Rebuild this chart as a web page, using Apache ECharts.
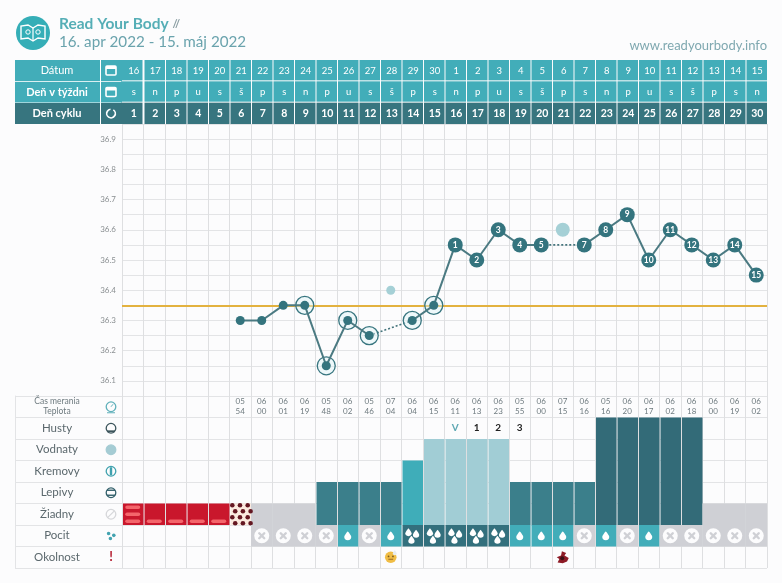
<!DOCTYPE html>
<html>
<head>
<meta charset="utf-8">
<title>Read Your Body</title>
<style>
	html, body { margin: 0; padding: 0; background: #fcfcfd; }
	#chart { width: 782px; height: 583px; }
</style>
<script src="https://cdn.jsdelivr.net/npm/echarts@6/dist/echarts.min.js"></script>
</head>
<body>
<div id="chart"></div>
<script type="text/javascript">
	// chart data, one entry per cycle day
	var dates = [16,17,18,19,20,21,22,23,24,25,26,27,28,29,30,1,2,3,4,5,6,7,8,9,10,11,12,13,14,15];
	var weekdays = ['s','n','p','u','s','š','p','s','n','p','u','s','š','p','s','n','p','u','s','š','p','s','n','p','u','s','š','p','s','n'];
	var cycleDays = [1,2,3,4,5,6,7,8,9,10,11,12,13,14,15,16,17,18,19,20,21,22,23,24,25,26,27,28,29,30];
	var headerRows = ['Dátum', 'Deň v týždni', 'Deň cyklu'];
	var rowLabels = ['Okolnost', 'Pocit', 'Žiadny', 'Lepivy', 'Kremovy', 'Vodnaty', 'Husty', 'Čas merania\nTeplota'];
	var tempTicks = ['36.1','36.2','36.3','36.4','36.5','36.6','36.7','36.8','36.9'];

	var temps = [null,null,null,null,null,36.3,36.3,36.35,36.35,36.15,36.3,36.25,null,36.3,36.35,36.55,36.5,36.6,36.55,36.55,null,36.55,36.6,36.65,36.5,36.6,36.55,36.5,36.55,36.45];
	var excluded = [null,null,null,null,null,null,null,null,null,null,null,null,36.4,null,null,null,null,null,null,null,36.6,null,null,null,null,null,null,null,null,null];
	var ringed = [null,null,null,null,null,null,null,null,36.35,36.15,36.3,36.25,null,36.3,36.35,null,null,null,null,null,null,null,null,null,null,null,null,null,null,null];
	var highDays = [null,null,null,null,null,null,null,null,null,null,null,null,null,null,null,1,2,3,4,5,null,7,8,9,10,11,12,13,14,15];
	var coverline = 36.35;

	var times = ['','','','','','05\n54','06\n00','06\n01','06\n19','05\n48','06\n02','05\n46','07\n04','06\n04','06\n15','06\n11','06\n13','06\n23','05\n55','06\n00','07\n15','06\n16','05\n16','06\n20','06\n17','06\n02','06\n18','06\n00','06\n19','06\n02'];
	var peakMarks = ['','','','','','','','','','','','','','','','V','1','2','3','','','','','','','','','','',''];
	// 0 nothing, 1 zadny, 2 lepivy, 3 kremovy, 4 vodnaty, 5 husty
	var mucus = [0,0,0,0,0,0,1,1,1,2,2,2,2,3,4,4,4,4,2,2,2,2,5,5,5,5,5,1,1,1];
	var bleeding = [3,1,1,1,1,-1,0,0,0,0,0,0,0,0,0,0,0,0,0,0,0,0,0,0,0,0,0,0,0,0];
	// -1 blank, 0 dry, 1 one drop, 3 three drops
	var feeling = [-1,-1,-1,-1,-1,-1,0,0,0,0,1,0,1,3,3,3,3,3,1,1,1,0,1,0,1,0,0,0,0,0];
	var notes = ['','','','','','','','','','','','','face','','','','','','','','bug','','','','','','','','',''];

	var FONT = 'Lato';
	var TEAL = '#42adb9', DARK = '#37757f', LINE = '#e3e4e6', INK = '#5b686d';
	var mucusColors = [null, '#cfd0d5', '#3b7f8b', '#3fadb9', '#a1cdd5', '#336b78'];
	var DROP = 'M12 1C12 1 3 11 3 16a9 8 0 0 0 18 0C21 11 12 1 12 1Z';
	var headerLists = [dates, weekdays, cycleDays];

	function cellRect(api, i, y0, y1, gap) {
		var a = api.coord([i, y1]), b = api.coord([i, y0]), w = api.size([1, 0])[0];
		return {x: a[0] - w / 2 + (gap || 0), y: a[1], width: w - (gap || 0), height: b[1] - a[1], cx: a[0], w: w};
	}

	function renderHeader(params, api) {
		var i = api.value(0), row = api.value(1);
		var a = api.coord([i, row]), s = api.size([1, 1]);
		var x = a[0] - s[0] / 2 + (i === 0 ? -1 : 1), w = s[0] - (i === 0 ? 0 : 1);
		return {
			type: 'group',
			children: [{
				type: 'rect',
				shape: {x: x, y: a[1] - s[1] / 2, width: w, height: s[1] - (row === 2 ? 0 : 1)},
				style: {fill: row === 2 ? DARK : TEAL}
			}, {
				type: 'text',
				style: {
					text: String(headerLists[row][i]), x: a[0] + 1, y: a[1], align: 'center', verticalAlign: 'middle',
					fill: '#fff', fontFamily: FONT, fontSize: row === 2 ? 10.5 : 9.5, fontWeight: row === 2 ? 'bold' : 'normal'
				}
			}]
		};
	}

	function renderMucus(params, api) {
		var level = api.value(1);
		if (!level) return;
		var r = cellRect(api, api.value(0), 2, 2 + level, level === 1 ? 0 : 1);
		return {type: 'rect', shape: {x: r.x, y: r.y, width: r.width, height: r.height}, style: {fill: mucusColors[level]}};
	}

	function renderBleeding(params, api) {
		var amount = api.value(1);
		if (!amount) return;
		var r = cellRect(api, api.value(0), 2, 3, 1);
		var kids = [];
		if (amount > 0) {
			kids.push({type: 'rect', shape: {x: r.x, y: r.y, width: r.width, height: r.height}, style: {fill: '#c9172c'}});
			for (var k = 0; k < amount; k++) {
				kids.push({
					type: 'rect',
					shape: {x: r.cx - 7.5, y: r.y + r.height - 5.5 - k * 7, width: 15, height: 3.6, r: 1.8},
					style: {fill: '#f4656b'}
				});
			}
		} else {
			kids.push({type: 'rect', shape: {x: r.x, y: r.y, width: r.width, height: r.height}, style: {fill: '#fbeadf'}});
			for (var row = 0; row < 4; row++) {
				for (var col = 0; col < 3; col++) {
					var dx = row % 2 ? col * 7.7 + 4.7 : col * 7.7 + 1.8;
					if (dx < r.width) {
						kids.push({
							type: 'circle',
							shape: {cx: r.x + dx, cy: r.y + 1.8 + row * 6, r: 2.3},
							style: {fill: '#641722'}
						});
					}
				}
			}
		}
		return {type: 'group', children: kids};
	}

	function dropAt(cx, cy, w, h) {
		return {
			type: 'path',
			shape: {pathData: DROP, x: cx - w / 2, y: cy - h / 2, width: w, height: h},
			style: {fill: '#fff'}
		};
	}

	function renderFeeling(params, api) {
		var f = api.value(1);
		if (f < 0) return;
		var r = cellRect(api, api.value(0), 1, 2, f === 0 ? 0 : 1);
		var cy = r.y + r.height / 2;
		var kids = [{
			type: 'rect',
			shape: {x: r.x, y: r.y, width: r.width, height: r.height},
			style: {fill: f === 0 ? '#cfd0d5' : f === 1 ? TEAL : '#33707d'}
		}];
		if (f === 0) {
			kids.push({type: 'circle', shape: {cx: r.cx, cy: cy, r: 7.5}, style: {fill: '#fcfcfd'}});
			kids.push({type: 'line', shape: {x1: r.cx - 2.5, y1: cy - 2.5, x2: r.cx + 2.5, y2: cy + 2.5}, style: {stroke: '#cfd0d5', lineWidth: 2.4, lineCap: 'round'}});
			kids.push({type: 'line', shape: {x1: r.cx + 2.5, y1: cy - 2.5, x2: r.cx - 2.5, y2: cy + 2.5}, style: {stroke: '#cfd0d5', lineWidth: 2.4, lineCap: 'round'}});
		} else if (f === 1) {
			kids.push(dropAt(r.cx, cy, 7, 9));
		} else {
			kids.push(dropAt(r.cx - 3.8, cy - 3.6, 6.5, 8));
			kids.push(dropAt(r.cx + 3.8, cy - 2, 6.5, 8));
			kids.push(dropAt(r.cx - 0.8, cy + 4, 6.5, 8));
		}
		return {type: 'group', children: kids};
	}

	function renderNote(params, api) {
		var i = api.value(0), kind = notes[i];
		if (!kind) return;
		var r = cellRect(api, i, 0, 1);
		var cy = r.y + r.height / 2;
		if (kind === 'face') {
			return {type: 'group', children: [
				{type: 'circle', shape: {cx: r.cx, cy: cy, r: 5.8}, style: {fill: '#f0bd45'}},
				{type: 'circle', shape: {cx: r.cx - 2.2, cy: cy - 0.8, r: 0.9}, style: {fill: '#7a5a20'}},
				{type: 'circle', shape: {cx: r.cx + 2.2, cy: cy - 0.8, r: 0.9}, style: {fill: '#7a5a20'}},
				{type: 'line', shape: {x1: r.cx - 2.4, y1: cy + 2, x2: r.cx + 2.4, y2: cy + 2}, style: {stroke: '#9a6a25', lineWidth: 1}},
				{type: 'path', shape: {pathData: DROP, x: r.cx + 2, y: cy - 7, width: 4, height: 5}, style: {fill: '#e8edf0'}}
			]};
		}
		return {type: 'group', children: [
			{type: 'path', shape: {pathData: 'M6 0L11 2 9 5 14 8 12 12 7 14 1 13 3 9 0 7 5 5Z', x: r.cx - 6, y: cy - 6, width: 12, height: 12}, style: {fill: '#8e1b26'}},
			{type: 'circle', shape: {cx: r.cx - 0.5, cy: cy + 1, r: 2}, style: {fill: '#3c1015'}}
		]};
	}

	function renderCellText(list, size, weight, lineHeight) {
		return function (params, api) {
			var text = list[api.value(0)];
			if (!text) return;
			var p = api.coord([api.value(0), api.value(1)]);
			return {
				type: 'text',
				style: {
					text: text, x: p[0], y: p[1], align: 'center', verticalAlign: 'middle',
					fill: text === 'V' ? '#5fa8b3' : lineHeight === 12 ? '#222' : '#6e7a7f',
					fontFamily: FONT, fontSize: size, fontWeight: weight, lineHeight: lineHeight
				}
			};
		};
	}

	function indexed(list) {
		return list.map(function (v, i) { return [i, v]; });
	}

	function bridge(first, second) {
		return temps.map(function (v, i) { return i === first || i === second ? v : null; });
	}

	var headerData = [];
	headerLists.forEach(function (list, row) {
		list.forEach(function (v, i) { headerData.push([i, row]); });
	});

	var tempPoints = temps.map(function (v, i) {
		if (v === null) return null;
		var n = highDays[i];
		return n === null ? {value: v, symbolSize: 9, label: {show: false}}
			: {value: v, symbolSize: 15, label: {show: true, formatter: String(n)}};
	});

	var excludedPoints = excluded.map(function (v, i) {
		return v === null ? null : {value: v, symbolSize: i === 20 ? 14 : 9};
	});

	var dayAxis = function (grid, extra) {
		return Object.assign({
			type: 'category', gridIndex: grid, data: cycleDays, boundaryGap: true,
			axisLine: {show: false}, axisTick: {show: false}, axisLabel: {show: false},
			splitLine: {show: true, interval: 0, lineStyle: {color: '#dedfe1', width: 1}}
		}, extra || {});
	};

	// little pictograms of the left column, drawn once at fixed table positions
	var ICON_X = 111;
	function rowY(k) { return 396 + 21.5 * (7.5 - k); }
	function headerIcon(y) {
		return {type: 'group', x: ICON_X, y: y, z: 20, children: [
			{type: 'rect', shape: {x: -5, y: -4.5, width: 10, height: 9, r: 1}, style: {fill: 'none', stroke: '#fff', lineWidth: 1.6}},
			{type: 'rect', shape: {x: -5, y: -4.5, width: 10, height: 3}, style: {fill: '#fff'}}
		]};
	}
	function ringIcon(k, color, fill) {
		return {type: 'group', x: ICON_X, y: rowY(k), z: 20, children: [
			{type: 'circle', shape: {cx: 0, cy: 0, r: 4.8}, style: {fill: fill || 'none', stroke: color, lineWidth: 1.3}}
		]};
	}
	function iconRow() {
		var clock = ringIcon(7, '#5fb0ba');
		clock.children.push({type: 'line', shape: {x1: 0, y1: 0, x2: 2, y2: -2.5}, style: {stroke: '#5fb0ba', lineWidth: 1}});
		clock.children.push({type: 'line', shape: {x1: -4, y1: 6, x2: 4, y2: 6}, style: {stroke: '#5fb0ba', lineWidth: 1}});
		var thick = ringIcon(6, '#3c555c');
		thick.children.push({type: 'line', shape: {x1: -4, y1: 3, x2: 4, y2: 3}, style: {stroke: '#3c555c', lineWidth: 1.8}});
		var creamy = ringIcon(4, '#3fa1ae');
		creamy.children.push({type: 'rect', shape: {x: -1.2, y: -4, width: 2.4, height: 8}, style: {fill: '#3fa1ae'}});
		var sticky = ringIcon(3, '#33606b');
		sticky.children.push({type: 'line', shape: {x1: -4, y1: -2.5, x2: 4, y2: -2.5}, style: {stroke: '#33606b', lineWidth: 1.4}});
		sticky.children.push({type: 'line', shape: {x1: -4, y1: 2.5, x2: 4, y2: 2.5}, style: {stroke: '#33606b', lineWidth: 1.4}});
		var none = ringIcon(2, '#d6d7da');
		none.children.push({type: 'line', shape: {x1: -3.4, y1: 3.4, x2: 3.4, y2: -3.4}, style: {stroke: '#d6d7da', lineWidth: 1.2}});
		var feel = {type: 'group', x: ICON_X, y: rowY(1), z: 20, children: [
			{type: 'circle', shape: {cx: -2.4, cy: -2.2, r: 1.8}, style: {fill: '#43a3b0'}},
			{type: 'circle', shape: {cx: 2.8, cy: -0.4, r: 1.8}, style: {fill: '#43a3b0'}},
			{type: 'circle', shape: {cx: -0.6, cy: 2.8, r: 1.8}, style: {fill: '#43a3b0'}}
		]};
		return [
			clock, thick, ringIcon(5, '#a5ccd4', '#a5ccd4'), creamy, sticky, none, feel,
			{type: 'text', x: ICON_X, y: rowY(0), z: 20, style: {text: '!', fill: '#b51e30', font: 'bold 13px ' + FONT, align: 'center', verticalAlign: 'middle'}}
		];
	}

	var logo = {type: 'group', x: 33, y: 33, z: 20, children: [
		{type: 'circle', shape: {cx: 0, cy: 0, r: 17}, style: {fill: '#35aeb7'}},
		{type: 'polygon', shape: {points: [[0, -5], [-5, -8], [-12, -7], [-12, 6], [-5, 5], [0, 8], [5, 5], [12, 6], [12, -7], [5, -8]]}, style: {fill: 'none', stroke: '#fff', lineWidth: 1.4}},
		{type: 'line', shape: {x1: 0, y1: -5, x2: 0, y2: 8}, style: {stroke: '#fff', lineWidth: 1.2}},
		{type: 'circle', shape: {cx: -5, cy: -1, r: 2.2}, style: {fill: 'none', stroke: '#fff', lineWidth: 1}},
		{type: 'circle', shape: {cx: 5, cy: -1, r: 2.2}, style: {fill: 'none', stroke: '#fff', lineWidth: 1}}
	]};

	var cycleIcon = {type: 'group', x: ICON_X, y: 113.5, z: 20, children: [
		{type: 'arc', shape: {cx: 0, cy: 0, r: 4.3, startAngle: -1, endAngle: 4.6}, style: {stroke: '#fff', fill: 'none', lineWidth: 1.7}}
	]};

	var option = {
		backgroundColor: '#fcfcfd',
		animation: false,
		textStyle: {fontFamily: FONT},
		title: [
			{text: 'Read Your Body {s|//}', left: 54, top: 11, textStyle: {color: '#55aeb6', fontFamily: FONT, fontSize: 15.5, fontWeight: 'bold', rich: {s: {color: '#8b9ea3', fontSize: 11}}}},
			{text: '16. apr 2022 - 15. máj 2022', left: 54, top: 30, textStyle: {color: '#6aa3ad', fontFamily: FONT, fontSize: 15.2, fontWeight: 'normal'}},
			{text: 'www.readyourbody.info', right: 10, top: 34, textStyle: {color: '#7fa8b0', fontFamily: FONT, fontSize: 13, fontWeight: 'normal'}}
		],
		graphic: {elements: [
			logo,
			{type: 'rect', z: 0, shape: {x: 15, y: 60, width: 107, height: 42.5}, style: {fill: TEAL}},
			{type: 'rect', z: 0, shape: {x: 15, y: 103, width: 107, height: 21}, style: {fill: DARK}},
			{type: 'line', z: 1, shape: {x1: 15, y1: 81.5, x2: 122, y2: 81.5}, style: {stroke: '#d9eff1', lineWidth: 1}},
			{type: 'line', z: 1, shape: {x1: 100.5, y1: 60, x2: 100.5, y2: 124}, style: {stroke: '#fff', lineWidth: 1}},
			headerIcon(70.5), headerIcon(92), cycleIcon
		].concat(iconRow())},
		grid: [
			{left: 122, top: 60, width: 645, height: 64, outerBoundsMode: 'none'},
			{left: 122, top: 124, width: 645, height: 272, outerBoundsMode: 'none'},
			{left: 122, top: 396, width: 645, height: 172, outerBoundsMode: 'none'},
			{left: 15, top: 396, width: 107, height: 172, outerBoundsMode: 'none'}
		],
		xAxis: [
			dayAxis(0, {splitLine: {show: false}}),
			dayAxis(1),
			dayAxis(2),
			{type: 'value', gridIndex: 3, min: 0, max: 1, show: false}
		],
		yAxis: [
			{
				type: 'category', gridIndex: 0, inverse: true, data: headerRows,
				axisLine: {show: false}, axisTick: {show: false}, z: 10,
				axisLabel: {
					margin: 65, align: 'center',
					formatter: function (v) { return v === 'Dátum' ? '{n|' + v + '}' : '{b|' + v + '}'; },
					rich: {
						n: {color: '#fff', fontFamily: FONT, fontSize: 11},
						b: {color: '#fff', fontFamily: FONT, fontSize: 11, fontWeight: 'bold'}
					}
				}
			},
			{
				type: 'value', gridIndex: 1, min: 36.05, max: 36.95, interval: 0.05,
				axisLine: {show: false}, axisTick: {show: false},
				axisLabel: {
					margin: 6, color: '#8a8f92', fontFamily: FONT, fontSize: 8,
					formatter: function (v) {
						var t = v.toFixed(1);
						return Math.abs(v - parseFloat(t)) < 0.001 && tempTicks.indexOf(t) >= 0 ? t : '';
					}
				},
				splitLine: {show: true, lineStyle: {color: LINE, width: 1}}
			},
			{
				type: 'value', gridIndex: 2, min: 0, max: 8, interval: 1,
				axisLine: {show: false}, axisTick: {show: false}, axisLabel: {show: false},
				splitLine: {show: true, lineStyle: {color: LINE, width: 1}}
			},
			{
				type: 'category', gridIndex: 2, position: 'left', data: rowLabels,
				axisLine: {show: false}, axisTick: {show: false}, splitLine: {show: false}, z: 10,
				axisLabel: {
					margin: 65, align: 'center', interval: 0,
					formatter: function (v) {
						if (v.indexOf('\n') < 0) return '{m|' + v + '}';
						return v.split('\n').map(function (s) { return '{t|' + s + '}'; }).join('\n');
					},
					rich: {
						m: {color: INK, fontFamily: FONT, fontSize: 11.5},
						t: {color: '#6e7a7f', fontFamily: FONT, fontSize: 8.5, lineHeight: 10}
					}
				}
			},
			{
				type: 'value', gridIndex: 3, min: 0, max: 8, interval: 1,
				axisLine: {show: true, lineStyle: {color: LINE}}, axisTick: {show: false}, axisLabel: {show: false},
				splitLine: {show: true, lineStyle: {color: LINE, width: 1}}
			}
		],
		series: [
			{
				type: 'custom', name: 'Hlavicka', xAxisIndex: 0, yAxisIndex: 0, silent: true,
				encode: {x: 0, y: 1}, data: headerData, renderItem: renderHeader
			},
			{
				type: 'scatter', name: 'Vylucene', xAxisIndex: 1, yAxisIndex: 1, z: 2, silent: true,
				data: excludedPoints, itemStyle: {color: '#a5d0d6', opacity: 1},
				markLine: {
					silent: true, symbol: 'none', animation: false, z: 2,
					label: {show: false},
					lineStyle: {color: '#e3b23f', width: 2, type: 'solid'},
					data: [{yAxis: coverline}]
				}
			},
			{
				type: 'scatter', name: 'Kruh', xAxisIndex: 1, yAxisIndex: 1, z: 3, silent: true,
				symbolSize: 18, data: ringed,
				itemStyle: {color: 'rgba(222,244,246,0.45)', borderColor: DARK, borderWidth: 1.3, opacity: 1}
			},
			{
				type: 'line', name: 'Premostenie 1', xAxisIndex: 1, yAxisIndex: 1, z: 3, silent: true,
				data: bridge(11, 13), connectNulls: true, showSymbol: false, symbol: 'none',
				lineStyle: {color: '#44747c', width: 1.6, type: [2, 2]}
			},
			{
				type: 'line', name: 'Premostenie 2', xAxisIndex: 1, yAxisIndex: 1, z: 3, silent: true,
				data: bridge(19, 21), connectNulls: true, showSymbol: false, symbol: 'none',
				lineStyle: {color: '#44747c', width: 1.6, type: [2, 2]}
			},
			{
				type: 'line', name: 'Teplota', xAxisIndex: 1, yAxisIndex: 1, z: 4, silent: true,
				data: tempPoints, connectNulls: false, symbol: 'circle', showAllSymbol: true,
				lineStyle: {color: '#4b7a82', width: 2},
				itemStyle: {color: '#34747e'},
				label: {position: 'inside', color: '#fff', fontFamily: FONT, fontSize: 8.5, fontWeight: 'bold'}
			},
			{
				type: 'custom', name: 'Cas', xAxisIndex: 2, yAxisIndex: 2, silent: true,
				encode: {x: 0, y: 1},
				data: times.map(function (t, i) { return [i, 7.5]; }),
				renderItem: renderCellText(times, 8, 'normal', 10)
			},
			{
				type: 'custom', name: 'Vrchol', xAxisIndex: 2, yAxisIndex: 2, silent: true,
				encode: {x: 0, y: 1},
				data: peakMarks.map(function (t, i) { return [i, 6.5]; }),
				renderItem: renderCellText(peakMarks, 10, 'bold', 12)
			},
			{
				type: 'custom', name: 'Hlien', xAxisIndex: 2, yAxisIndex: 2, silent: true,
				encode: {x: 0}, data: indexed(mucus), renderItem: renderMucus
			},
			{
				type: 'custom', name: 'Krvacanie', xAxisIndex: 2, yAxisIndex: 2, silent: true,
				encode: {x: 0}, data: indexed(bleeding), renderItem: renderBleeding
			},
			{
				type: 'custom', name: 'Pocit', xAxisIndex: 2, yAxisIndex: 2, silent: true,
				encode: {x: 0}, data: indexed(feeling), renderItem: renderFeeling
			},
			{
				type: 'custom', name: 'Okolnost', xAxisIndex: 2, yAxisIndex: 2, silent: true,
				encode: {x: 0}, data: indexed(notes.map(function (n) { return n ? 1 : 0; })), renderItem: renderNote
			}
		]
	};

	var chart = echarts.init(document.getElementById('chart'), null, {renderer: 'canvas'});
	chart.setOption(option);
</script>
</body>
</html>
